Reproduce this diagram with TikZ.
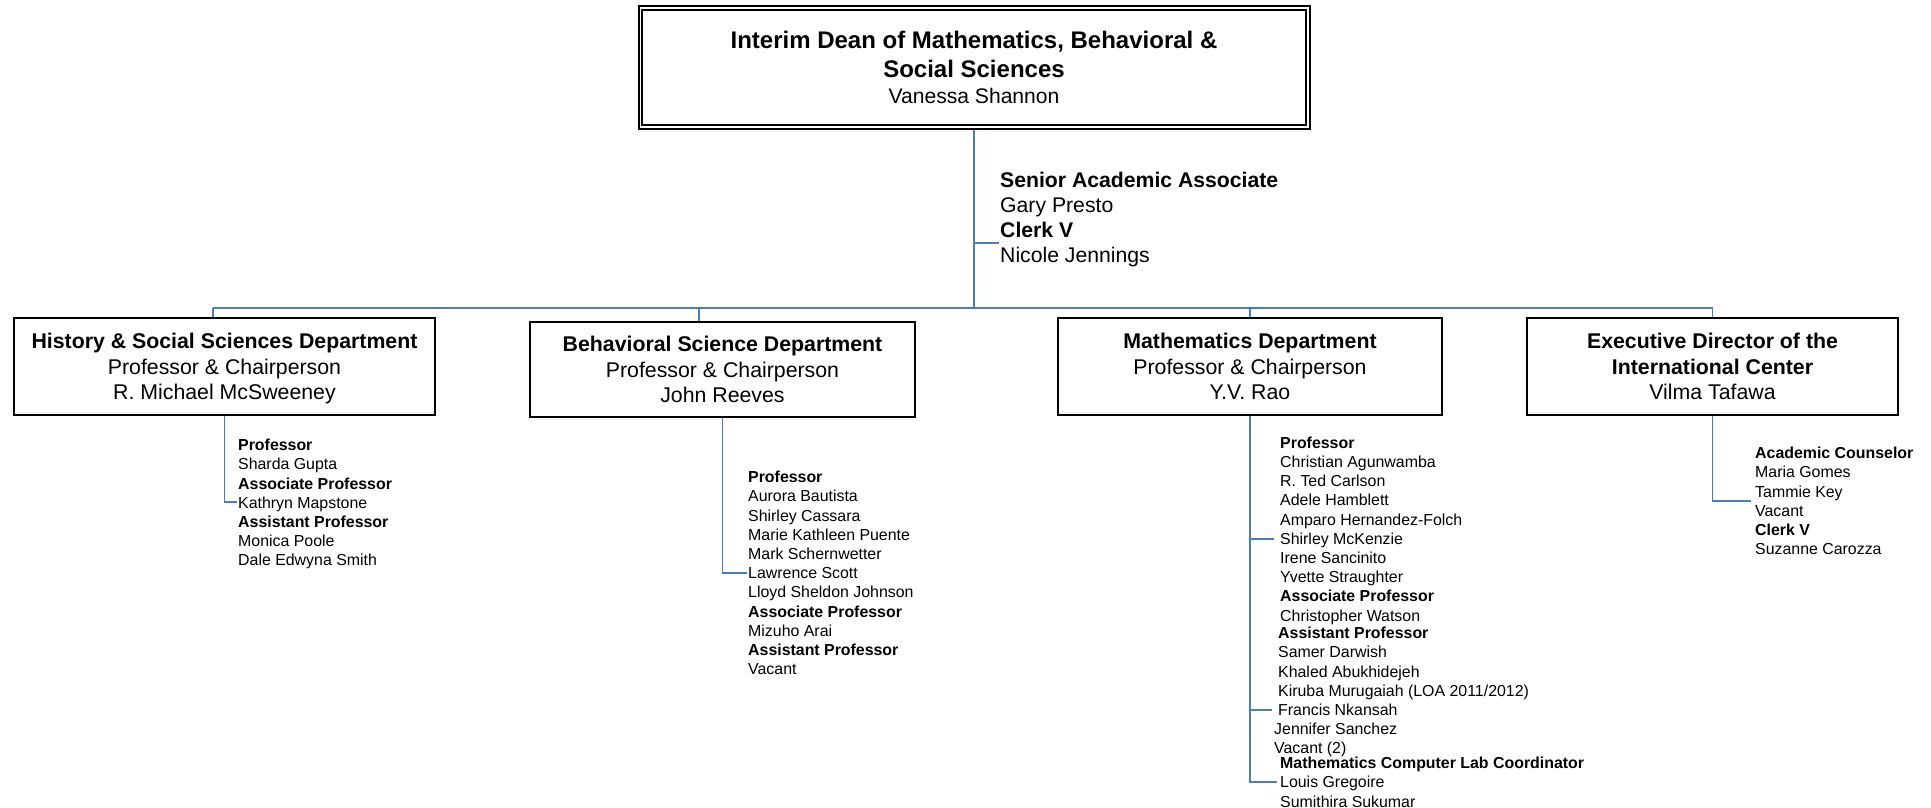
\documentclass[tikz,border=0pt]{standalone}
\usepackage{fontspec}
\setmainfont{Liberation Sans}
\definecolor{linkblue}{HTML}{4A7EBB}
\tikzset{
  conn/.style={draw=linkblue, line width=1.8pt},
  deptbox/.style={draw=black, line width=1.5pt, align=center, inner sep=0pt,
    font=\fontsize{21.3}{25.5}\selectfont},
  deanbox/.style={draw=black, line width=2pt, align=center, inner sep=0pt,
    font=\fontsize{24}{29}\selectfont},
  listtext/.style={anchor=north west, align=left, inner sep=0pt,
    font=\fontsize{15.9}{19.2}\selectfont},
  stafftext/.style={anchor=north west, align=left, inner sep=0pt,
    font=\fontsize{21.2}{25}\selectfont},
}
\begin{document}
\begin{tikzpicture}[x=1pt,y=-1pt]
\fill[white] (0,0) rectangle (1931,808);
\useasboundingbox (0,0) rectangle (1931,808);

% Dean box
\node[deanbox, minimum width=671, minimum height=122] (dean) at (974,67.5)
 {\rule{0pt}{21pt}\textbf{Interim Dean of Mathematics, Behavioral \&}\\
  \textbf{Social Sciences}\\[-3pt]
  {\fontsize{21.1}{29}\selectfont Vanessa Shannon}\rule[-5pt]{0pt}{5pt}};
\draw[line width=1.3pt] ([shift={(4.5,4.5)}]dean.north west) rectangle ([shift={(-4.5,-4.5)}]dean.south east);

% Staff beside trunk
\node[stafftext] (staff) at (1000,167)
 {\rule{0pt}{20pt}\textbf{Senior Academic Associate}\\Gary Presto\\\textbf{Clerk V}\\Nicole Jennings};

% Department boxes
\node[deptbox, minimum width=421, minimum height=97] (hist) at (224.5,366.5)
 {\rule{0pt}{20.5pt}\textbf{History \& Social Sciences Department}\\Professor \& Chairperson\\R. Michael McSweeney\rule[-5.3pt]{0pt}{5.3pt}};
\node[deptbox, minimum width=385, minimum height=95] (beh) at (722.5,369.5)
 {\rule{0pt}{20.5pt}\textbf{Behavioral Science Department}\\Professor \& Chairperson\\John Reeves\rule[-5.3pt]{0pt}{5.3pt}};
\node[deptbox, minimum width=384, minimum height=97] (math) at (1250,366.5)
 {\rule{0pt}{20.5pt}\textbf{Mathematics Department}\\Professor \& Chairperson\\Y.V. Rao\rule[-5.3pt]{0pt}{5.3pt}};
\node[deptbox, minimum width=371, minimum height=97] (exec) at (1712.5,366.5)
 {\rule{0pt}{20.5pt}\textbf{Executive Director of the}\\\textbf{International Center}\\Vilma Tafawa\rule[-5.3pt]{0pt}{5.3pt}};

% Lists
\node[listtext] (histlist) at (238,436.5)
 {\rule{0pt}{14pt}\textbf{Professor}\\Sharda Gupta\\\textbf{Associate Professor}\\Kathryn Mapstone\\\textbf{Assistant Professor}\\Monica Poole\\Dale Edwyna Smith};
\node[listtext] (behlist) at (748,468.5)
 {\rule{0pt}{14pt}\textbf{Professor}\\Aurora Bautista\\Shirley Cassara\\Marie Kathleen Puente\\Mark Schernwetter\\Lawrence Scott\\Lloyd Sheldon Johnson\\\textbf{Associate Professor}\\Mizuho Arai\\\textbf{Assistant Professor}\\Vacant};
\node[listtext] (mathlistA) at (1280,434)
 {\rule{0pt}{14pt}\textbf{Professor}\\Christian Agunwamba\\R. Ted Carlson\\Adele Hamblett\\Amparo Hernandez-Folch\\Shirley McKenzie\\Irene Sancinito\\Yvette Straughter\\\textbf{Associate Professor}\\Christopher Watson};
\node[listtext] (mathlistB) at (1278,624.5)
 {\rule{0pt}{14pt}\textbf{Assistant Professor}\\Samer Darwish\\Khaled Abukhidejeh\\Kiruba Murugaiah (LOA 2011/2012)\\Francis Nkansah};
\node[listtext] (mathlistC) at (1274,720.5)
 {\rule{0pt}{14pt}Jennifer Sanchez\\Vacant (2)};
\node[listtext] (mathlistD) at (1280,754.5)
 {\rule{0pt}{14pt}\textbf{Mathematics Computer Lab Coordinator}\\Louis Gregoire\\Sumithira Sukumar};
\node[listtext] (execlist) at (1755,444.5)
 {\rule{0pt}{14pt}\textbf{Academic Counselor}\\Maria Gomes\\Tammie Key\\Vacant\\\textbf{Clerk V}\\Suzanne Carozza};

% Connectors
\coordinate (bus) at (974,308);
\coordinate (busL) at (213,308);
\coordinate (busR) at (1712.5,308);
\coordinate (bdrop) at (699,308);
\coordinate (clerkend) at (999,243);
\draw[conn] (dean.south) -- (bus);
\draw[conn] (dean.south |- clerkend) -- (clerkend);
\draw[conn] (busL) -- (busR);
\draw[conn] (busL) -- (busL |- hist.north);
\draw[conn] (bdrop) -- (bdrop |- beh.north);
\draw[conn] (math.north |- bus) -- (math.north);
\draw[conn] (exec.north |- bus) -- (exec.north);

\coordinate (hl) at (237,502);
\coordinate (bl) at (747,573);
\coordinate (ml1) at (1274,539);
\coordinate (ml2) at (1272,710);
\coordinate (ml3) at (1277,782);
\coordinate (el) at (1751,501);
\draw[conn] (hist.south) |- (hl);
\draw[conn] (beh.south) |- (bl);
\draw[conn] (math.south) |- (ml3);
\draw[conn] (math.south |- ml1) -- (ml1);
\draw[conn] (math.south |- ml2) -- (ml2);
\draw[conn] (exec.south) |- (el);
\end{tikzpicture}
\end{document}
